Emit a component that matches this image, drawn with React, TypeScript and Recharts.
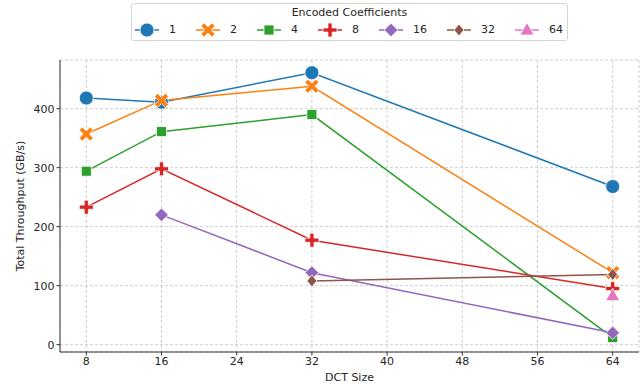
import React from 'react';
import { LineChart, Line, XAxis, YAxis, CartesianGrid, Label } from 'recharts';

const dctSizes = [8, 16, 32, 64];
const coef1 = [418, 411, 461, 268];
const coef2 = [357, 414, 438, 122];
const coef4 = [294, 361, 390, 12];
const coef8 = [233, 298, 177, 95];
const coef16 = [null, 220, 122, 20];
const coef32 = [null, null, 108, 119];
const coef64 = [null, null, null, 83];

const xTicks = [8, 16, 24, 32, 40, 48, 56, 64];
const yTicks = [0, 100, 200, 300, 400];

const FONT = '"DejaVu Sans", sans-serif';

type MarkerKind = 'circle' | 'x' | 'square' | 'plus' | 'diamond' | 'thin' | 'triangle';

const series: { key: string; name: string; color: string; marker: MarkerKind; values: (number | null)[] }[] = [
  { key: 'c1', name: '1', color: '#1f77b4', marker: 'circle', values: coef1 },
  { key: 'c2', name: '2', color: '#ff7f0e', marker: 'x', values: coef2 },
  { key: 'c4', name: '4', color: '#2ca02c', marker: 'square', values: coef4 },
  { key: 'c8', name: '8', color: '#d62728', marker: 'plus', values: coef8 },
  { key: 'c16', name: '16', color: '#9467bd', marker: 'diamond', values: coef16 },
  { key: 'c32', name: '32', color: '#8c564b', marker: 'thin', values: coef32 },
  { key: 'c64', name: '64', color: '#e377c2', marker: 'triangle', values: coef64 },
];

const data = dctSizes.map((x, i) => {
  const row: Record<string, number | null> = { x };
  series.forEach((s) => {
    row[s.key] = s.values[i];
  });
  return row;
});

// cross polygon, optionally rotated 45deg for the "X" marker
const crossPoints = (s: number, t: number, rotate: boolean) => {
  const h = t / 2;
  const pts = [
    [-h, -s], [h, -s], [h, -h], [s, -h], [s, h], [h, h],
    [h, s], [-h, s], [-h, h], [-s, h], [-s, -h], [-h, -h],
  ];
  const c = Math.SQRT1_2;
  return pts
    .map(([px, py]) => (rotate ? [(px - py) * c, (px + py) * c] : [px, py]))
    .map(([px, py]) => `${px.toFixed(2)},${py.toFixed(2)}`)
    .join(' ');
};

const Marker = ({ kind, cx, cy, color }: { kind: MarkerKind; cx: number; cy: number; color: string }) => {
  const common = { fill: color, stroke: '#ffffff', strokeWidth: 0.8 };
  let shape: React.ReactNode = null;
  if (kind === 'circle') shape = <circle r={7} {...common} />;
  if (kind === 'square') shape = <rect x={-5} y={-5} width={10} height={10} {...common} />;
  if (kind === 'x') shape = <polygon points={crossPoints(7.8, 4.4, true)} {...common} />;
  if (kind === 'plus') shape = <polygon points={crossPoints(7, 4.2, false)} {...common} />;
  if (kind === 'diamond') shape = <polygon points="0,-6.8 6.8,0 0,6.8 -6.8,0" {...common} />;
  if (kind === 'thin') shape = <polygon points="0,-6 5,0 0,6 -5,0" {...common} />;
  if (kind === 'triangle') shape = <polygon points="0,-7.5 7,5 -7,5" {...common} />;
  return <g transform={`translate(${cx},${cy})`}>{shape}</g>;
};

const LegendBox = () => (
  <div
    style={{
      position: 'absolute',
      left: 131,
      top: 3,
      width: 437,
      height: 38,
      boxSizing: 'border-box',
      border: '1px solid #d6d6d6',
      borderRadius: 3,
      background: 'rgba(255,255,255,0.8)',
      fontFamily: FONT,
      fontSize: 11,
      color: '#262626',
    }}
  >
    <div style={{ position: 'absolute', left: 0, right: 0, top: 2, textAlign: 'center', lineHeight: '14px' }}>
      Encoded Coefficients
    </div>
    <div style={{ position: 'absolute', left: 3, top: 17, display: 'flex', alignItems: 'center', height: 18 }}>
      {series.map((s) => (
        <div key={s.key} style={{ display: 'flex', alignItems: 'center', marginRight: 20 }}>
          <svg width={24} height={18}>
            <line x1={0} y1={9} x2={24} y2={9} stroke={s.color} strokeWidth={1.5} />
            <Marker kind={s.marker} cx={12} cy={9} color={s.color} />
          </svg>
          <span style={{ marginLeft: 10, lineHeight: '18px' }}>{s.name}</span>
        </div>
      ))}
    </div>
  </div>
);

const tickStyle = { fontSize: 11, fill: '#262626', fontFamily: FONT };

export default function App() {
  return (
    <div style={{ position: 'absolute', left: 0, top: 0, width: 641, height: 384, background: '#fff' }}>
      <LineChart width={641} height={384} data={data} margin={{ top: 60, right: 2, left: 0, bottom: 0 }}>
        <CartesianGrid stroke="#cfcfcf" strokeDasharray="3 2" />
        <XAxis
          dataKey="x"
          type="number"
          domain={[5.2, 66.8]}
          ticks={xTicks}
          allowDataOverflow
          height={32}
          tick={tickStyle}
          tickLine={{ stroke: '#333' }}
          tickSize={3.5}
          axisLine={{ stroke: '#333' }}
        >
          <Label
            value="DCT Size"
            position="insideBottom"
            offset={3}
            style={{ fontSize: 11, fill: '#262626', fontFamily: FONT }}
          />
        </XAxis>
        <XAxis xAxisId="top" orientation="top" dataKey="x" type="number" domain={[5.2, 66.8]} height={0} tick={false} tickLine={false} axisLine={{ stroke: '#333' }} />
        <YAxis
          type="number"
          domain={[-12.5, 482.5]}
          ticks={yTicks}
          allowDataOverflow
          width={60}
          tick={tickStyle}
          tickLine={{ stroke: '#333' }}
          tickSize={3.5}
          axisLine={{ stroke: '#333' }}
        >
          <Label
            content={({ viewBox }: any) => {
              const cy = viewBox.y + viewBox.height / 2;
              return (
                <text
                  x={20}
                  y={cy}
                  transform={`rotate(-90, 20, ${cy})`}
                  textAnchor="middle"
                  dominantBaseline="central"
                  style={{ fontSize: 11, fill: '#262626', fontFamily: FONT }}
                >
                  Total Throughput (GB/s)
                </text>
              );
            }}
          />
        </YAxis>
        <YAxis yAxisId="right" orientation="right" domain={[-12.5, 482.5]} width={0} tick={false} tickLine={false} axisLine={{ stroke: '#333' }} />
        {series.map((s) => (
          <Line
            key={s.key}
            dataKey={s.key}
            name={s.name}
            stroke={s.color}
            strokeWidth={1.5}
            isAnimationActive={false}
            dot={(p: any) =>
              p.cx == null || p.cy == null || p.value == null ? (
                <g key={p.key} />
              ) : (
                <g key={p.key}>
                  <Marker kind={s.marker} cx={p.cx} cy={p.cy} color={s.color} />
                </g>
              )
            }
            activeDot={false}
          />
        ))}
      </LineChart>
      <LegendBox />
    </div>
  );
}
